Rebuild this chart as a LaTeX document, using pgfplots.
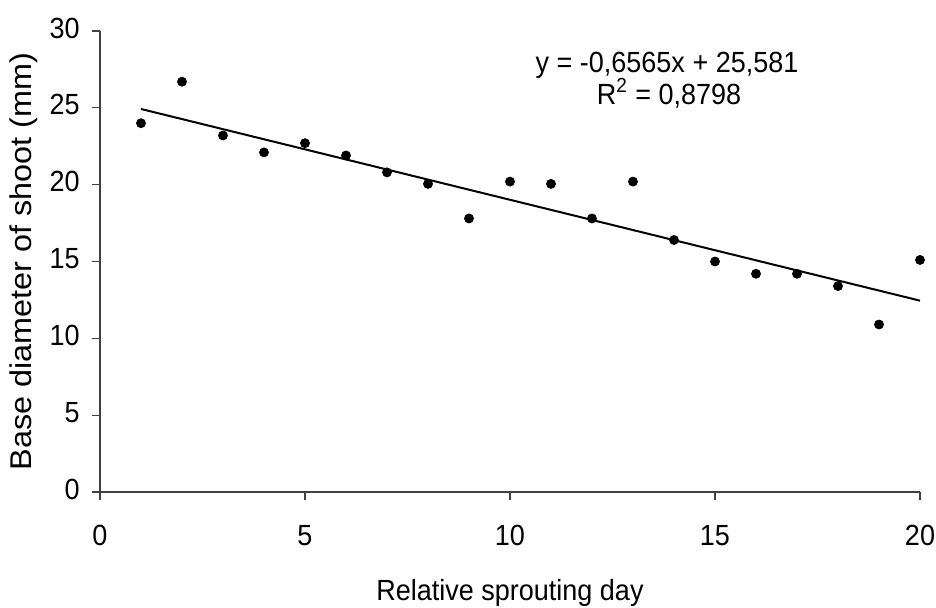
\documentclass[border=0pt]{standalone}
\usepackage{pgfplots}
\pgfplotsset{compat=1.18}
\usepackage{fontspec}
\setmainfont{Liberation Sans}
\begin{document}
\fontsize{13.5pt}{16pt}\selectfont
\begin{tikzpicture}
\begin{axis}[
  scale only axis,
  width=410pt, height=230.5pt,
  xmin=0, xmax=20, ymin=0, ymax=30,
  axis lines=left,
  x axis line style={-, black!75, line width=0.6pt},
  y axis line style={-, black!75, line width=0.6pt},
  xtick={0,5,10,15,20},
  ytick={0,5,10,15,20,25,30},
  tick align=outside,
  major tick length=4pt,
  tick style={black!75, line width=0.6pt},
  /pgf/number format/assume math mode=true,
  ticklabel style={font=\fontsize{13.5pt}{16pt}\selectfont},
  xticklabel style={anchor=base, inner sep=0pt, yshift=-23pt, yscale=1.08},
  yticklabel style={anchor=east, inner sep=0pt, xshift=-6pt, yshift=1.5pt, yscale=1.08},
  xlabel={Relative sprouting day},
  ylabel={Base diameter of shoot (mm)},
  xlabel style={at={(axis description cs:0.5,0)}, anchor=base, yshift=-54.5pt, yscale=1.08, font=\fontsize{13.5pt}{16pt}\selectfont},
  ylabel style={at={(axis description cs:0,0.5)}, anchor=base, yshift=34pt, xscale=1.08, font=\fontsize{15pt}{18pt}\selectfont},
  clip=false,
]
\addplot[only marks, mark=*, mark size=2.25pt, black] coordinates {
  (1,24.0) (2,26.7) (3,23.2) (4,22.1) (5,22.7) (6,21.9) (7,20.8)
  (8,20.05) (9,17.8) (10,20.2) (11,20.05) (12,17.8) (13,20.2) (14,16.4)
  (15,15.0) (16,14.2) (17,14.2) (18,13.4) (19,10.9) (20,15.1)
};
\addplot[black, line width=1pt] coordinates {(1,24.9245) (20,12.451)};
\node[anchor=base, inner sep=0pt, yscale=1.08, font=\fontsize{13.5pt}{16pt}\selectfont] at (axis cs:13.83,27.33) {y = -0,6565x + 25,581};
\node[anchor=base, inner sep=0pt, yscale=1.08, font=\fontsize{13.5pt}{16pt}\selectfont] at (axis cs:13.88,25.24) {R\textsuperscript{2} = 0,8798};
\end{axis}
\pgfresetboundingbox
\useasboundingbox ([xshift=-50pt,yshift=-58pt]current axis.south west) rectangle ([xshift=418pt,yshift=246pt]current axis.south west);
\end{tikzpicture}
\end{document}
